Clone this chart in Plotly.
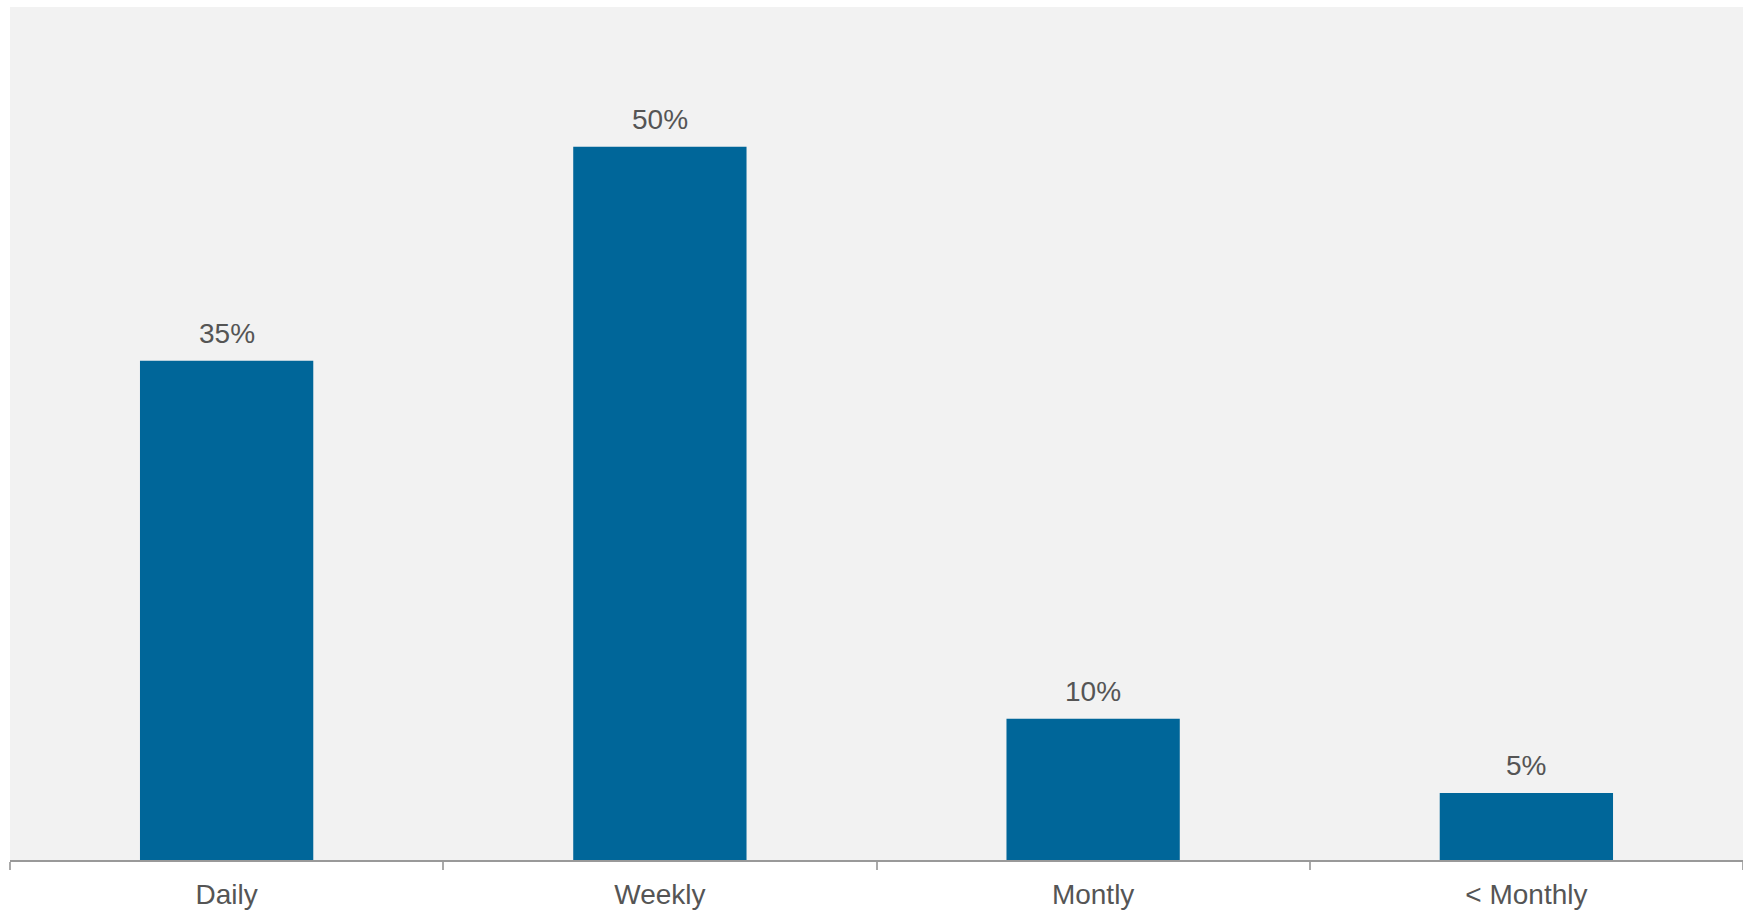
import plotly.graph_objects as go

categories = ["Daily", "Weekly", "Montly", "< Monthly"]
values = [35, 50, 9.9, 4.7]
labels = ["35%", "50%", "10%", "5%"]

bar_color = "#006699"
text_color = "#555555"
font_family = "Liberation Sans, Arial, Helvetica, sans-serif"

fig = go.Figure(
    go.Bar(
        x=categories,
        y=values,
        marker=dict(color=bar_color, line=dict(width=0)),
        hoverinfo="skip",
    )
)

for cat, val, lab in zip(categories, values, labels):
    fig.add_annotation(
        x=cat, y=val, text=lab, showarrow=False,
        xanchor="center", yanchor="bottom", yshift=10,
        font=dict(family=font_family, size=28, color=text_color),
    )

fig.update_layout(
    width=1743,
    height=916,
    margin=dict(l=10, r=0, t=7, b=56, pad=0),
    paper_bgcolor="white",
    plot_bgcolor="#f2f2f2",
    bargap=0.6,
    showlegend=False,
    font=dict(family=font_family, size=28, color=text_color),
    xaxis=dict(
        showline=True,
        linecolor="#999999",
        linewidth=2,
        ticks="outside",
        ticklen=8,
        tickwidth=2,
        tickcolor="#aaaaaa",
        tickson="boundaries",
        ticklabelstandoff=8,
        showgrid=False,
        zeroline=False,
        tickfont=dict(family=font_family, size=28, color=text_color),
    ),
    yaxis=dict(
        range=[0, 59.8],
        visible=False,
        showgrid=False,
        zeroline=False,
    ),
)

fig.write_html(
    "out.html",
    config={"displayModeBar": False},
    post_script="document.body.style.margin='0px';",
)
